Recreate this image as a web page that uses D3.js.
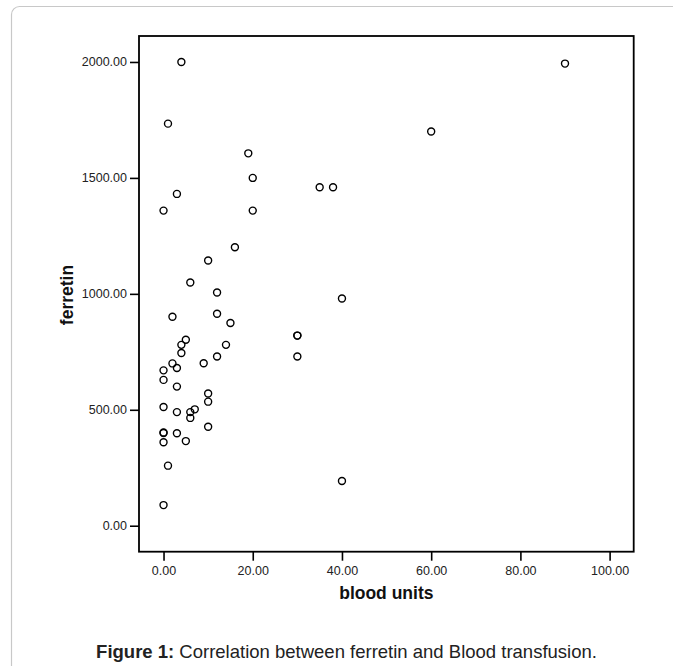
<!DOCTYPE html>
<html>
<head>
<meta charset="utf-8">
<script src="https://cdn.jsdelivr.net/npm/d3@7/dist/d3.min.js"></script>
<style>
  html, body { margin: 0; padding: 0; background: #ffffff; }
  svg { display: block; }
</style>
</head>
<body>
<div id="chart"></div>
<script>
// blood units transfused vs serum ferretin
const bloodUnits = [4, 1, 19, 20, 3, 0, 20, 35, 38, 16, 10, 6, 12, 12, 2, 15, 40, 30, 30, 30,
    5, 4, 4, 14, 12, 9, 2, 0, 3, 0, 3, 10, 10, 0, 3, 7, 6, 6, 10, 0, 0, 3, 5, 0, 1, 40, 0, 60, 90];
const ferretin = [2000, 1734, 1606, 1500, 1431, 1359, 1359, 1460, 1460, 1201, 1144, 1049, 1006, 914, 901, 874, 980, 820, 820, 730,
    802, 780, 745, 780, 730, 701, 700, 670, 680, 629, 600, 570, 535, 512, 490, 502, 490, 465, 427, 402, 400, 399, 365, 360, 259, 193, 89, 1700, 1993];

const xTicks = [0, 20, 40, 60, 80, 100];
const yTicks = [0, 500, 1000, 1500, 2000];

const width = 673, height = 666;
const plot = { left: 139, top: 36, right: 633.7, bottom: 551.7 };
const FONT = '"Liberation Sans", Arial, sans-serif';

const svg = d3.select('#chart').append('svg')
    .attr('width', width)
    .attr('height', height);

svg.append('rect')
    .attr('width', width)
    .attr('height', height)
    .attr('fill', '#ffffff');

// outer figure frame (runs off the right and bottom edges)
svg.append('rect')
    .attr('x', 11.5)
    .attr('y', 6.5)
    .attr('width', 700)
    .attr('height', 720)
    .attr('rx', 8)
    .attr('fill', 'none')
    .attr('stroke', '#c8c8c8')
    .attr('stroke-width', 1.2);

const x = d3.scaleLinear().domain([-5.5, 105.4]).range([plot.left, plot.right]);
const y = d3.scaleLinear().domain([-112, 2112]).range([plot.bottom, plot.top]);

// y axis
const yAxis = svg.append('g')
    .attr('transform', `translate(${plot.left},0)`)
    .call(d3.axisLeft(y).tickValues(yTicks).tickSize(9).tickPadding(3).tickFormat(d3.format('.2f')));

// x axis
const xAxis = svg.append('g')
    .attr('transform', `translate(0,${plot.bottom})`)
    .call(d3.axisBottom(x).tickValues(xTicks).tickSize(9).tickPadding(5).tickFormat(d3.format('.2f')));

[xAxis, yAxis].forEach(a => {
    a.select('.domain').remove();
    a.selectAll('.tick line').attr('stroke', '#000').attr('stroke-width', 1.6);
    a.selectAll('.tick text')
        .attr('fill', '#222')
        .attr('font-family', FONT)
        .attr('font-size', '12.5px');
});

// plot frame
svg.append('rect')
    .attr('x', plot.left)
    .attr('y', plot.top)
    .attr('width', plot.right - plot.left)
    .attr('height', plot.bottom - plot.top)
    .attr('fill', 'none')
    .attr('stroke', '#000')
    .attr('stroke-width', 1.8);

// points
svg.append('g')
    .selectAll('circle')
    .data(bloodUnits.map((b, i) => ({ b: b, f: ferretin[i] })))
    .join('circle')
    .attr('cx', d => x(d.b))
    .attr('cy', d => y(d.f))
    .attr('r', 3.5)
    .attr('fill', 'none')
    .attr('stroke', '#000')
    .attr('stroke-width', 1.4);

// axis titles
svg.append('text')
    .attr('x', (plot.left + plot.right) / 2)
    .attr('y', 599)
    .attr('text-anchor', 'middle')
    .attr('font-family', FONT)
    .attr('font-weight', 'bold')
    .attr('font-size', '17.5px')
    .attr('fill', '#111')
    .text('blood units');

svg.append('text')
    .attr('transform', 'translate(72.5,295) rotate(-90)')
    .attr('text-anchor', 'middle')
    .attr('font-family', FONT)
    .attr('font-weight', 'bold')
    .attr('font-size', '17.5px')
    .attr('fill', '#111')
    .text('ferretin');

// caption
const caption = svg.append('text')
    .attr('x', 346.5)
    .attr('y', 658)
    .attr('text-anchor', 'middle')
    .attr('font-family', FONT)
    .attr('font-size', '18.5px')
    .attr('fill', '#222');
caption.append('tspan').attr('font-weight', 'bold').text('Figure 1:');
caption.append('tspan').text(' Correlation between ferretin and Blood transfusion.');
</script>
</body>
</html>
